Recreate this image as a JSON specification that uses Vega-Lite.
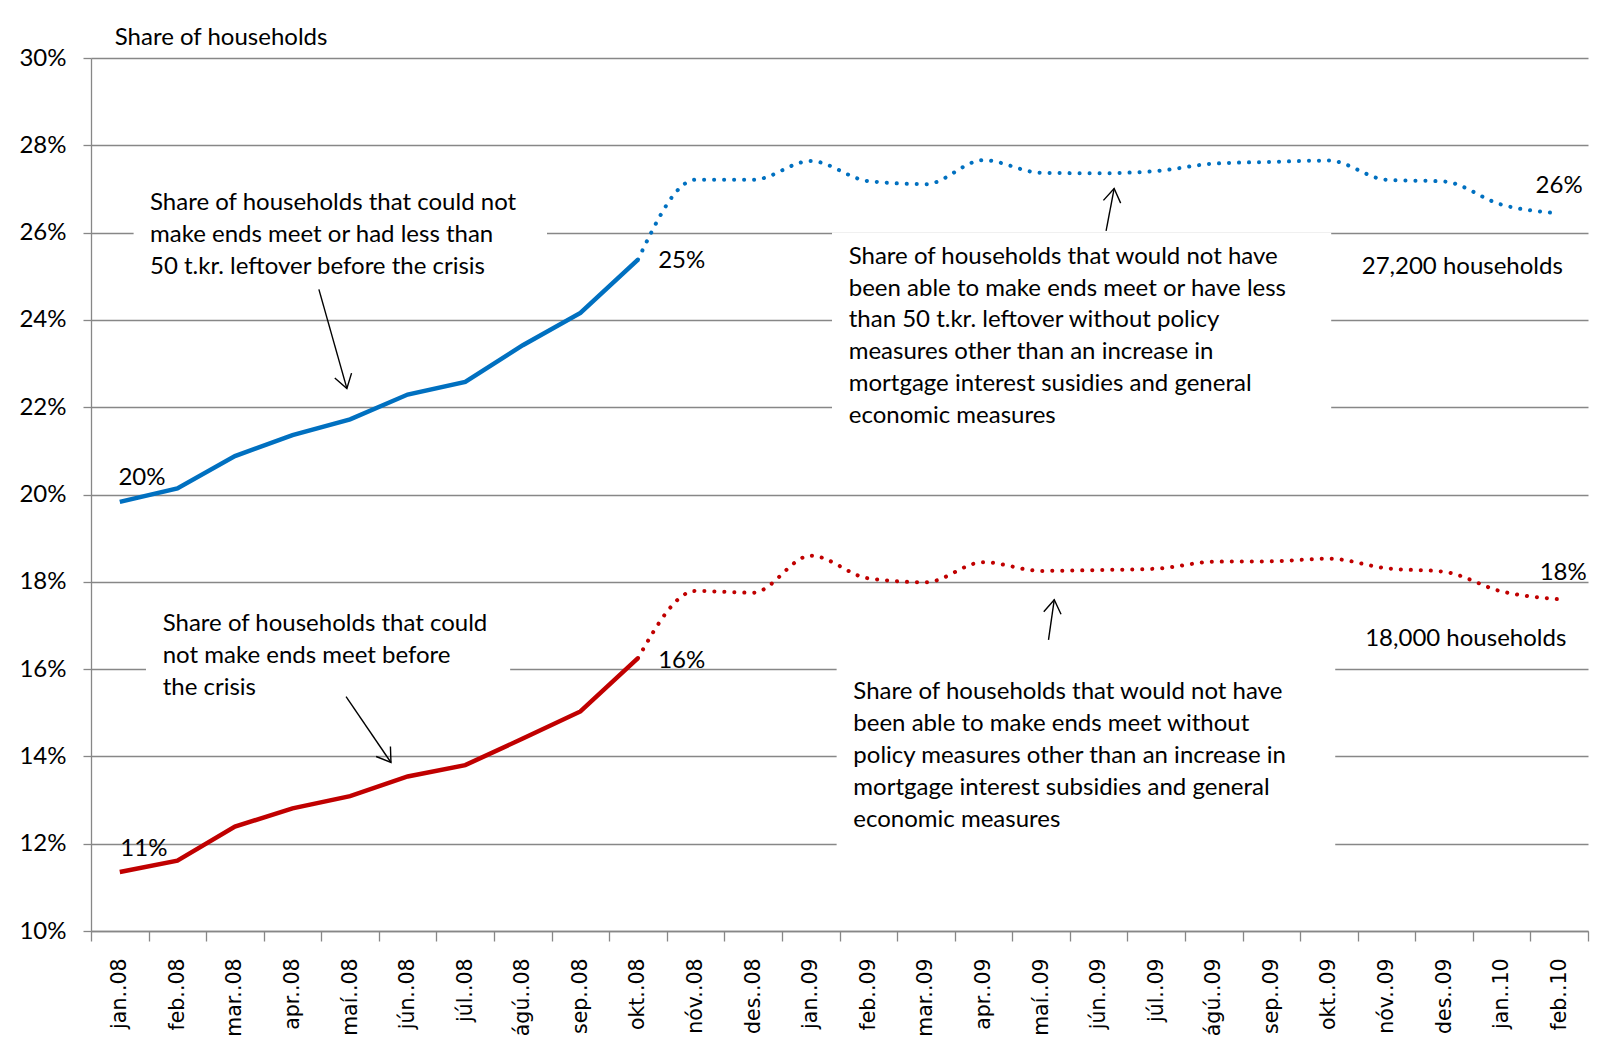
{
  "$schema": "https://vega.github.io/schema/vega-lite/v6.json",
  "width": 1497,
  "height": 873,
  "autosize": "none",
  "padding": {"left": 91, "top": 58, "right": 12, "bottom": 116},
  "background": "white",
  "config": {"view": {"stroke": null}, "font": "Lato"},
  "datasets": {
    "series": [
      {"month": "jan..08", "s": "b", "v": 19.83}, {"month": "feb..08", "s": "b", "v": 20.14},
      {"month": "mar..08", "s": "b", "v": 20.88}, {"month": "apr..08", "s": "b", "v": 21.36},
      {"month": "maí..08", "s": "b", "v": 21.72}, {"month": "jún..08", "s": "b", "v": 22.29},
      {"month": "júl..08", "s": "b", "v": 22.58}, {"month": "ágú..08", "s": "b", "v": 23.42},
      {"month": "sep..08", "s": "b", "v": 24.16}, {"month": "okt..08", "s": "b", "v": 25.38},
      {"month": "nóv..08", "s": "b", "v": 27.21}, {"month": "des..08", "s": "b", "v": 27.21},
      {"month": "jan..09", "s": "b", "v": 27.64}, {"month": "feb..09", "s": "b", "v": 27.18},
      {"month": "mar..09", "s": "b", "v": 27.11}, {"month": "apr..09", "s": "b", "v": 27.66},
      {"month": "maí..09", "s": "b", "v": 27.37}, {"month": "jún..09", "s": "b", "v": 27.36},
      {"month": "júl..09", "s": "b", "v": 27.41}, {"month": "ágú..09", "s": "b", "v": 27.58},
      {"month": "sep..09", "s": "b", "v": 27.62}, {"month": "okt..09", "s": "b", "v": 27.65},
      {"month": "nóv..09", "s": "b", "v": 27.21}, {"month": "des..09", "s": "b", "v": 27.17},
      {"month": "jan..10", "s": "b", "v": 26.64}, {"month": "feb..10", "s": "b", "v": 26.44},
      {"month": "jan..08", "s": "r", "v": 11.35}, {"month": "feb..08", "s": "r", "v": 11.61},
      {"month": "mar..08", "s": "r", "v": 12.39}, {"month": "apr..08", "s": "r", "v": 12.81},
      {"month": "maí..08", "s": "r", "v": 13.09}, {"month": "jún..08", "s": "r", "v": 13.54},
      {"month": "júl..08", "s": "r", "v": 13.80}, {"month": "ágú..08", "s": "r", "v": 14.41},
      {"month": "sep..08", "s": "r", "v": 15.03}, {"month": "okt..08", "s": "r", "v": 16.25},
      {"month": "nóv..08", "s": "r", "v": 17.79}, {"month": "des..08", "s": "r", "v": 17.75},
      {"month": "jan..09", "s": "r", "v": 18.60}, {"month": "feb..09", "s": "r", "v": 18.08},
      {"month": "mar..09", "s": "r", "v": 17.99}, {"month": "apr..09", "s": "r", "v": 18.45},
      {"month": "maí..09", "s": "r", "v": 18.25}, {"month": "jún..09", "s": "r", "v": 18.27},
      {"month": "júl..09", "s": "r", "v": 18.30}, {"month": "ágú..09", "s": "r", "v": 18.46},
      {"month": "sep..09", "s": "r", "v": 18.47}, {"month": "okt..09", "s": "r", "v": 18.53},
      {"month": "nóv..09", "s": "r", "v": 18.31}, {"month": "des..09", "s": "r", "v": 18.23},
      {"month": "jan..10", "s": "r", "v": 17.78}, {"month": "feb..10", "s": "r", "v": 17.60}
    ],
    "boxes": [
      {"from": 0.24, "to": 7.42, "v": 25.2, "v2": 26.8},
      {"from": 12.37, "to": 21.04, "v": 20.6, "v2": 26.0},
      {"from": 0.455, "to": 6.78, "v": 15.2, "v2": 16.8},
      {"from": 12.45, "to": 21.11, "v": 11.0, "v2": 16.8}
    ],
    "arrows": [
      {"id": "a1", "at": 3.944, "v": 22.43, "at2": 3.458, "v2": 24.70},
      {"id": "a2", "at": 17.27, "v": 27.01, "at2": 17.13, "v2": 26.04},
      {"id": "a3", "at": 4.71, "v": 13.86, "at2": 3.93, "v2": 15.37},
      {"id": "a4", "at": 16.23, "v": 17.59, "at2": 16.13, "v2": 16.67}
    ],
    "notes": [
      {"at": 0.525, "v": 26.95, "text": ["Share of households  that could not", "make ends meet  or had less than", "50 t.kr. leftover before the crisis"]},
      {"at": 12.66, "v": 25.72, "text": ["Share of households  that would not  have", "been able to make ends  meet  or have less", "than 50 t.kr. leftover without  policy", "measures other than an increase in", "mortgage interest susidies and general", "economic measures"]},
      {"at": 0.745, "v": 17.31, "text": ["Share of households  that could", "not make ends  meet before", "the crisis"]},
      {"at": 12.74, "v": 15.74, "text": ["Share of households  that would not have", "been able to make ends meet  without", "policy measures other  than an increase in", "mortgage interest subsidies  and general", "economic measures"]}
    ],
    "labels": [
      {"at": -0.087, "v": 30.30, "text": "Share of households"},
      {"at": -0.024, "v": 20.22, "text": "20%"},
      {"at": 9.35, "v": 25.18, "text": "25%"},
      {"at": 24.59, "v": 26.91, "text": "26%"},
      {"at": 21.57, "v": 25.05, "text": "27,200 households"},
      {"at": 0.009, "v": 11.71, "text": "11%"},
      {"at": 9.35, "v": 16.03, "text": "16%"},
      {"at": 24.66, "v": 18.04, "text": "18%"},
      {"at": 21.63, "v": 16.54, "text": "18,000 households"}
    ]
  },
  "encoding": {
    "y": {
      "field": "v",
      "type": "quantitative",
      "scale": {"domain": [10, 30], "nice": false, "zero": false},
      "axis": {
        "title": null,
        "values": [10, 12, 14, 16, 18, 20, 22, 24, 26, 28, 30],
        "labelExpr": "datum.value + '%'",
        "labelFont": "Lato",
        "labelFontSize": 24,
        "labelColor": "#000000",
        "labelPadding": 17,
        "labelOffset": 0,
        "tickSize": 8,
        "tickColor": "#878787",
        "tickWidth": 1.3,
        "domainColor": "#878787",
        "domainWidth": 1.3,
        "grid": true,
        "gridColor": "#878787",
        "gridWidth": 1.3
      }
    }
  },
  "layer": [
    {
      "data": {"name": "boxes"},
      "mark": {"type": "rect", "fill": "white", "strokeWidth": 0},
      "encoding": {
        "x": {"field": "from", "type": "quantitative", "scale": {"domain": [-0.5, 25.5], "nice": false, "zero": false}, "axis": null},
        "x2": {"field": "to"},
        "y2": {"field": "v2"}
      }
    },
    {
      "data": {"name": "series"},
      "encoding": {
        "x": {
          "field": "month",
          "type": "ordinal",
          "bandPosition": 0.5,
          "scale": {
            "type": "band",
            "paddingInner": 0,
            "paddingOuter": 0,
            "domain": ["jan..08", "feb..08", "mar..08", "apr..08", "maí..08", "jún..08", "júl..08", "ágú..08", "sep..08", "okt..08", "nóv..08", "des..08", "jan..09", "feb..09", "mar..09", "apr..09", "maí..09", "jún..09", "júl..09", "ágú..09", "sep..09", "okt..09", "nóv..09", "des..09", "jan..10", "feb..10"]
          },
          "axis": {
            "title": null,
            "labelAngle": -90,
            "labelFont": "DejaVu Sans",
            "labelFontSize": 20.5,
            "labelColor": "#000000",
            "labelPadding": 17,
            "tickBand": "extent",
            "tickSize": 10,
            "tickColor": "#878787",
            "tickWidth": 1.3,
            "domainColor": "#878787",
            "domainWidth": 1.3,
            "grid": false
          }
        }
      },
      "layer": [
        {
          "transform": [{"filter": "datum.s == 'b' && indexof(['nóv..08','des..08','jan..09','feb..09','mar..09','apr..09','maí..09','jún..09','júl..09','ágú..09','sep..09','okt..09','nóv..09','des..09','jan..10','feb..10'], datum.month) < 0"}],
          "mark": {"type": "line", "color": "#0070C0", "strokeWidth": 4.5, "interpolate": "linear"}
        },
        {
          "transform": [{"filter": "datum.s == 'b' && indexof(['jan..08','feb..08','mar..08','apr..08','maí..08','jún..08','júl..08','ágú..08','sep..08'], datum.month) < 0"}],
          "mark": {"type": "line", "color": "#0070C0", "strokeWidth": 4, "strokeDash": [0.1, 9.9], "strokeCap": "round", "interpolate": "monotone"}
        },
        {
          "transform": [{"filter": "datum.s == 'r' && indexof(['nóv..08','des..08','jan..09','feb..09','mar..09','apr..09','maí..09','jún..09','júl..09','ágú..09','sep..09','okt..09','nóv..09','des..09','jan..10','feb..10'], datum.month) < 0"}],
          "mark": {"type": "line", "color": "#C00000", "strokeWidth": 4.5, "interpolate": "linear"}
        },
        {
          "transform": [{"filter": "datum.s == 'r' && indexof(['jan..08','feb..08','mar..08','apr..08','maí..08','jún..08','júl..08','ágú..08','sep..08'], datum.month) < 0"}],
          "mark": {"type": "line", "color": "#C00000", "strokeWidth": 4, "strokeDash": [0.1, 9.9], "strokeCap": "round", "interpolate": "monotone"}
        }
      ]
    },
    {
      "data": {"name": "arrows"},
      "mark": {"type": "rule", "color": "#000000", "strokeWidth": 1.4},
      "encoding": {
        "x": {"field": "at", "type": "quantitative", "scale": {"domain": [-0.5, 25.5], "nice": false, "zero": false}, "axis": null},
        "x2": {"field": "at2"},
        "y2": {"field": "v2"}
      }
    },
    {
      "data": {"name": "arrows"},
      "transform": [{"filter": "datum.id == 'a1'"}],
      "mark": {"type": "point", "shape": "M-0.65,1L0,0L0.65,1", "filled": false, "stroke": "#000000", "strokeWidth": 1.4, "size": 720, "opacity": 1, "angle": 164},
      "encoding": {
        "x": {"field": "at", "type": "quantitative", "scale": {"domain": [-0.5, 25.5], "nice": false, "zero": false}, "axis": null}
      }
    },
    {
      "data": {"name": "arrows"},
      "transform": [{"filter": "datum.id == 'a2'"}],
      "mark": {"type": "point", "shape": "M-0.65,1L0,0L0.65,1", "filled": false, "stroke": "#000000", "strokeWidth": 1.4, "size": 720, "opacity": 1, "angle": 9},
      "encoding": {
        "x": {"field": "at", "type": "quantitative", "scale": {"domain": [-0.5, 25.5], "nice": false, "zero": false}, "axis": null}
      }
    },
    {
      "data": {"name": "arrows"},
      "transform": [{"filter": "datum.id == 'a3'"}],
      "mark": {"type": "point", "shape": "M-0.65,1L0,0L0.65,1", "filled": false, "stroke": "#000000", "strokeWidth": 1.4, "size": 720, "opacity": 1, "angle": 145},
      "encoding": {
        "x": {"field": "at", "type": "quantitative", "scale": {"domain": [-0.5, 25.5], "nice": false, "zero": false}, "axis": null}
      }
    },
    {
      "data": {"name": "arrows"},
      "transform": [{"filter": "datum.id == 'a4'"}],
      "mark": {"type": "point", "shape": "M-0.65,1L0,0L0.65,1", "filled": false, "stroke": "#000000", "strokeWidth": 1.4, "size": 720, "opacity": 1, "angle": 8},
      "encoding": {
        "x": {"field": "at", "type": "quantitative", "scale": {"domain": [-0.5, 25.5], "nice": false, "zero": false}, "axis": null}
      }
    },
    {
      "data": {"name": "notes"},
      "mark": {"type": "text", "align": "left", "baseline": "top", "font": "Lato", "fontSize": 24, "lineHeight": 31.8, "color": "#000000"},
      "encoding": {
        "x": {"field": "at", "type": "quantitative", "scale": {"domain": [-0.5, 25.5], "nice": false, "zero": false}, "axis": null},
        "text": {"field": "text"}
      }
    },
    {
      "data": {"name": "labels"},
      "mark": {"type": "text", "align": "left", "baseline": "alphabetic", "font": "Lato", "fontSize": 24, "color": "#000000"},
      "encoding": {
        "x": {"field": "at", "type": "quantitative", "scale": {"domain": [-0.5, 25.5], "nice": false, "zero": false}, "axis": null},
        "text": {"field": "text"}
      }
    }
  ],
  "resolve": {"scale": {"x": "independent"}, "axis": {"x": "independent"}}
}
